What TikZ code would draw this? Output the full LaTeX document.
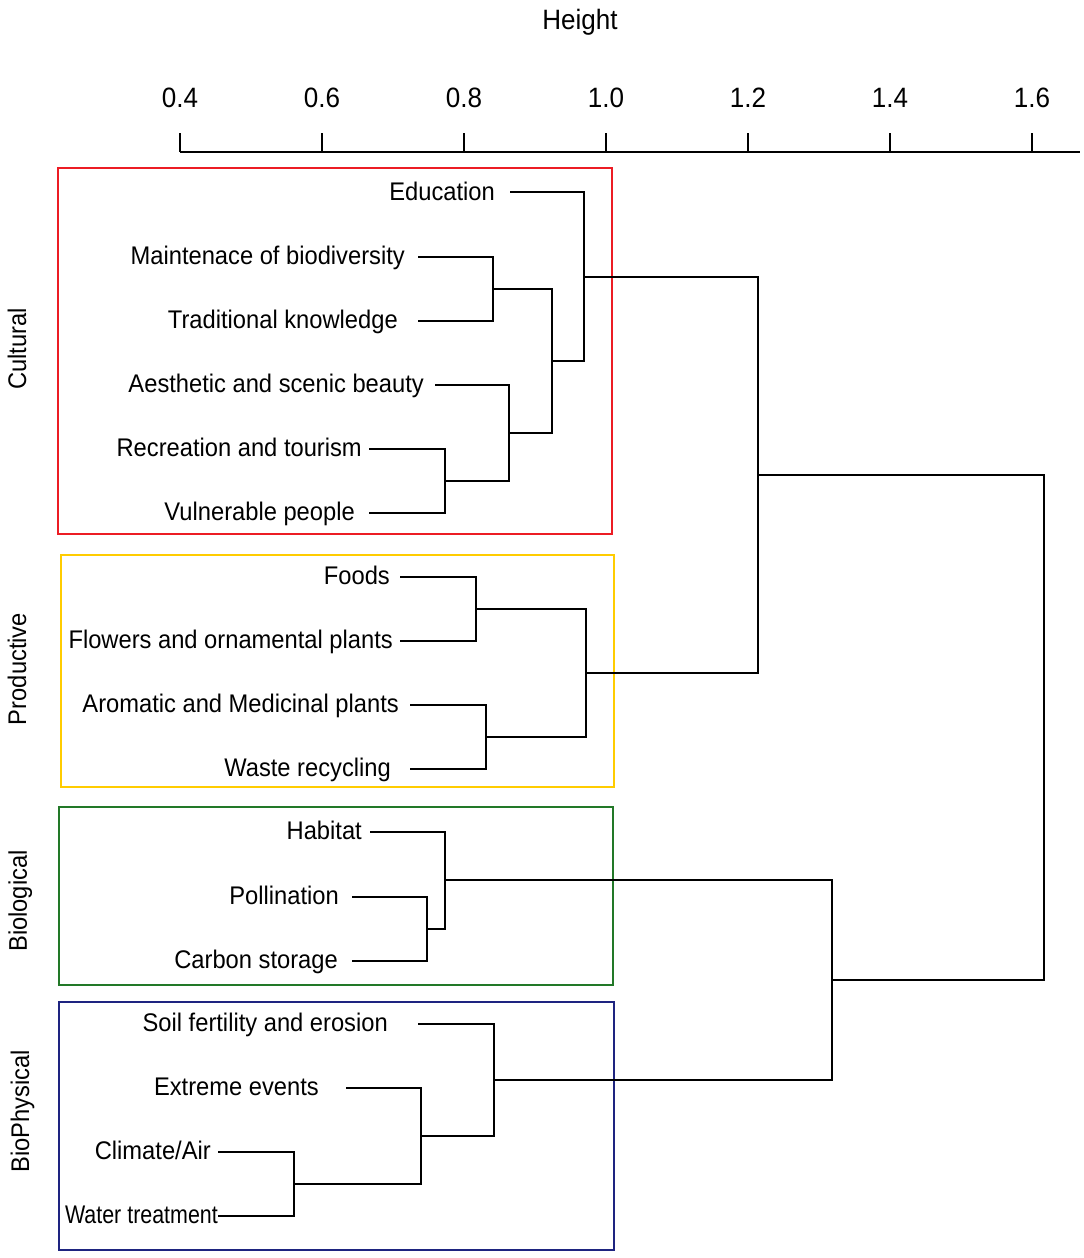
\documentclass[tikz,border=0pt]{standalone}
\usepackage{fontspec}
\setmainfont{Liberation Sans}[FakeStretch=0.93]
\usetikzlibrary{positioning}
\definecolor{boxred}{RGB}{236,28,36}
\definecolor{boxyellow}{RGB}{255,204,0}
\definecolor{boxgreen}{RGB}{34,120,40}
\definecolor{boxblue}{RGB}{30,36,128}
\tikzset{
  link/.style={line width=2pt},
  leaf/.style={anchor=base east, inner sep=0pt},
  grp/.style={rotate=90, anchor=base, inner sep=0pt},
  frame/.style={line width=2.5pt},
  scalelab/.style={anchor=base, inner sep=0pt, font=\fontsize{28}{32}\selectfont}
}

\begin{document}
\begin{tikzpicture}[x=1pt, y=-1pt, font=\fontsize{25.5}{30}\selectfont]
\useasboundingbox (0,0) rectangle (1084,1258);

% axis
\node[scalelab] (height) at (580,29) {Height};
\coordinate (ax0) at (180,152);
\coordinate (ax1) at (1080,152);
\draw [link] (ax0) -- (ax1);
\foreach \x/\t in {180/0.4,322/0.6,464/0.8,606/1.0,748/1.2,890/1.4,1032/1.6}{
  \node[scalelab] (tick\t) at (\x,107) {\t};
  \draw [link] (\x,133) -- (\x,152);
}

% groups
\draw [frame, boxred] (58,168) rectangle (612,534);
\draw [frame, boxyellow] (61,555) rectangle (614,787);
\draw [frame, boxgreen] (59,807) rectangle (613,985);
\draw [frame, boxblue] (59,1002) rectangle (614,1250);
\node[grp] (cul) at (26,349) {Cultural};
\node[grp] (pro) at (26,669) {Productive};
\node[grp] (bio) at (27,901) {Biological};
\node[grp] (bph) at (29,1111) {BioPhysical};

% leaves
\coordinate (edu) at (510,192);
\coordinate (mai) at (418,257);
\coordinate (tra) at (418,321);
\coordinate (aes) at (435,385);
\coordinate (rec) at (369,449);
\coordinate (vul) at (369,513);
\coordinate (foo) at (400,577);
\coordinate (flo) at (400,641);
\coordinate (aro) at (410,705);
\coordinate (was) at (410,769);
\coordinate (hab) at (370,832);
\coordinate (pol) at (352,897);
\coordinate (car) at (352,961);
\coordinate (soi) at (418,1024);
\coordinate (ext) at (346,1088);
\coordinate (cli) at (218,1152);
\coordinate (wat) at (218,1216);

\node[leaf] (tedu) at (495,200) {Education};
\node[leaf] (tmai) at (405,264) {Maintenace of biodiversity};
\node[leaf] (ttra) at (398,328) {Traditional knowledge};
\node[leaf] (taes) at (424,392) {Aesthetic and scenic beauty};
\node[leaf] (trec) at (362,456) {Recreation and tourism};
\node[leaf] (tvul) at (355,520) {Vulnerable people};
\node[leaf] (tfoo) at (390,584) {Foods};
\node[leaf] (tflo) at (393,648) {Flowers and ornamental plants};
\node[leaf] (taro) at (399,712) {Aromatic and Medicinal plants};
\node[leaf] (twas) at (391,776) {Waste recycling};
\node[leaf] (thab) at (362,839) {Habitat};
\node[leaf] (tpol) at (339,904) {Pollination};
\node[leaf] (tcar) at (338,968) {Carbon storage};
\node[leaf] (tsoi) at (388,1031) {Soil fertility and erosion};
\node[leaf] (text) at (319,1095) {Extreme events};
\node[leaf] (tcli) at (211,1159) {Climate/Air};
\node[leaf] (twat) at (218,1223) {\addfontfeature{FakeStretch=0.84}Water treatment};

% merges
\coordinate (m1) at (493,289);
\coordinate (m2) at (445,481);
\coordinate (m3) at (509,433);
\coordinate (m4) at (552,361);
\coordinate (m5) at (584,277);
\coordinate (m6) at (476,609);
\coordinate (m7) at (486,737);
\coordinate (m8) at (586,673);
\coordinate (m9) at (758,475);
\coordinate (m10) at (427,929);
\coordinate (m11) at (445,880);
\coordinate (m12) at (294,1184);
\coordinate (m13) at (421,1136);
\coordinate (m14) at (494,1080);
\coordinate (m15) at (832,980);
\coordinate (m16) at (1044,727.5);

\draw [link] (mai) -| (m1) |- (tra);
\draw [link] (rec) -| (m2) |- (vul);
\draw [link] (aes) -| (m3) |- (m2);
\draw [link] (m1) -| (m4) |- (m3);
\draw [link] (edu) -| (m5) |- (m4);
\draw [link] (foo) -| (m6) |- (flo);
\draw [link] (aro) -| (m7) |- (was);
\draw [link] (m6) -| (m8) |- (m7);
\draw [link] (m5) -| (m9) |- (m8);
\draw [link] (pol) -| (m10) |- (car);
\draw [link] (hab) -| (m11) |- (m10);
\draw [link] (cli) -| (m12) |- (wat);
\draw [link] (ext) -| (m13) |- (m12);
\draw [link] (soi) -| (m14) |- (m13);
\draw [link] (m11) -| (m15) |- (m14);
\draw [link] (m9) -| (m16) |- (m15);
\end{tikzpicture}
\end{document}
